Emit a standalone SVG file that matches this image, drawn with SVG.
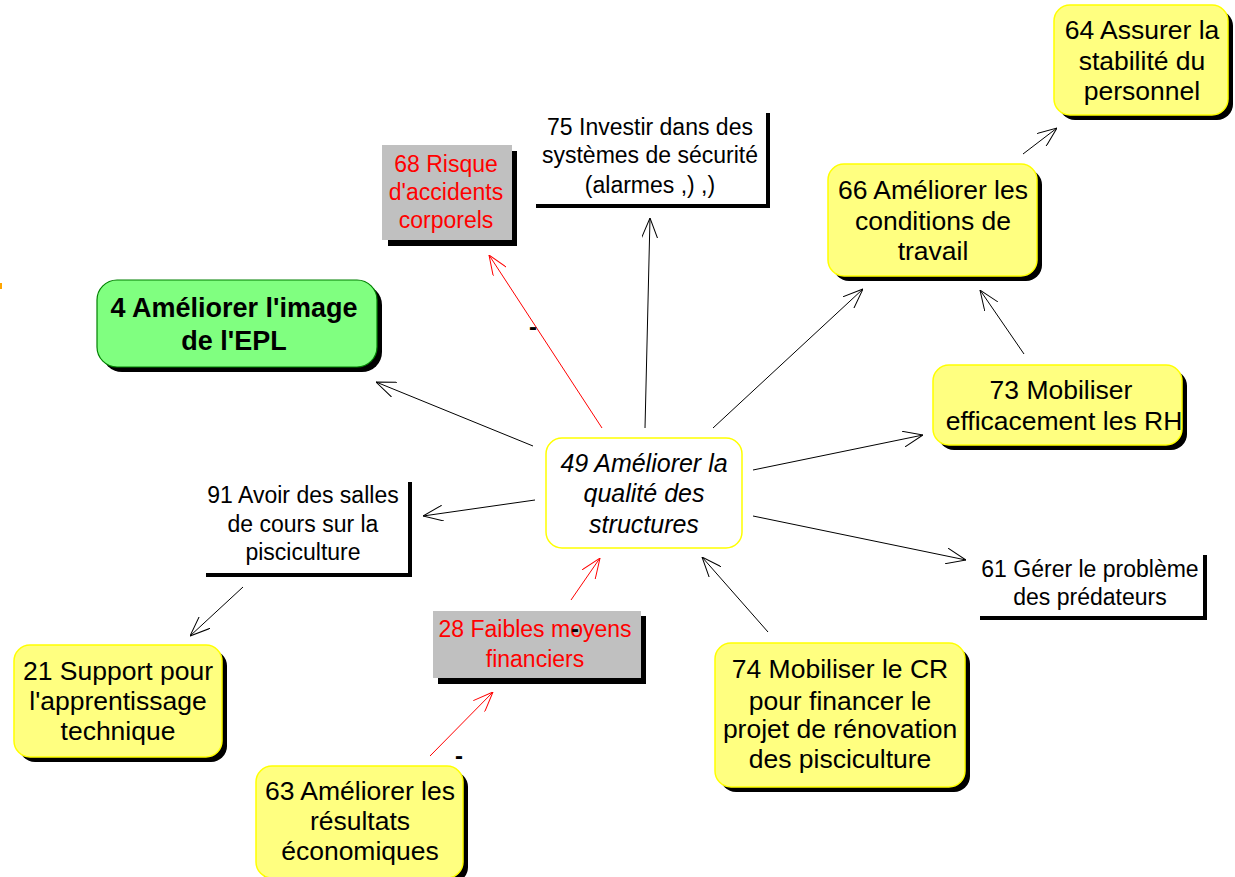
<svg xmlns="http://www.w3.org/2000/svg" width="1235" height="877" viewBox="0 0 1235 877">
  <defs>
    <style>
      text { font-family: "Liberation Sans", Arial, sans-serif; text-anchor: middle; }
      .shadow { fill: #000000; }
      .yellow { fill: #FFFF80; stroke: #FFFF00; stroke-width: 1.5; }
      .green { fill: #80FF80; stroke: #008000; stroke-width: 1.2; }
      .grey { fill: #C0C0C0; }
      .white { fill: #FFFFFF; }
      .center { fill: #FFFFFF; stroke: #FFFF00; stroke-width: 1.5; }
      .t-yellow { font-size: 26.5px; fill: #000000; }
      .t-plain { font-size: 23px; fill: #000000; }
      .t-red { font-size: 23px; fill: #FF0000; }
      .t-green { font-size: 27px; font-weight: bold; fill: #000000; }
      .t-center { font-size: 25px; font-style: italic; fill: #000000; }
      .sign { font-size: 24px; font-weight: bold; fill: #000000; }
      .link { fill: none; stroke: #000000; stroke-width: 1; }
      .link.neg { stroke: #FF0000; }
    </style>
    <marker id="arrow" viewBox="0 0 20 16" refX="20" refY="8" markerWidth="20" markerHeight="16" markerUnits="userSpaceOnUse" orient="auto">
      <path d="M0,0 L20,8 L0,16" fill="none" stroke="#000000" stroke-width="1"/>
    </marker>
    <marker id="arrow-red" viewBox="0 0 20 16" refX="20" refY="8" markerWidth="20" markerHeight="16" markerUnits="userSpaceOnUse" orient="auto">
      <path d="M0,0 L20,8 L0,16" fill="none" stroke="#FF0000" stroke-width="1"/>
    </marker>
    <clipPath id="clip73">
      <rect x="933" y="365" width="249" height="80" rx="16"/>
    </clipPath>
  </defs>

  <rect x="0" y="0" width="1235" height="877" fill="#FFFFFF"/>

  <!-- partly visible mark at the left edge -->
  <rect x="0" y="283" width="2" height="6" fill="#FFA500"/>

  <!-- connectors -->
  <g id="connectors">
    <line class="link neg" x1="602" y1="428" x2="489" y2="255" marker-end="url(#arrow-red)"/>
    <line class="link" x1="645" y1="428" x2="650" y2="218" marker-end="url(#arrow)"/>
    <line class="link" x1="713" y1="428" x2="863" y2="289" marker-end="url(#arrow)"/>
    <line class="link" x1="1024" y1="354" x2="980" y2="290" marker-end="url(#arrow)"/>
    <line class="link" x1="1023" y1="154" x2="1057" y2="128" marker-end="url(#arrow)"/>
    <line class="link" x1="753" y1="470" x2="923" y2="435" marker-end="url(#arrow)"/>
    <line class="link" x1="753" y1="516" x2="966" y2="560" marker-end="url(#arrow)"/>
    <line class="link" x1="533" y1="446" x2="376" y2="382" marker-end="url(#arrow)"/>
    <line class="link" x1="535" y1="500" x2="423" y2="516" marker-end="url(#arrow)"/>
    <line class="link" x1="243" y1="587" x2="190" y2="636" marker-end="url(#arrow)"/>
    <line class="link neg" x1="571" y1="600" x2="600" y2="558" marker-end="url(#arrow-red)"/>
    <line class="link neg" x1="430" y1="756" x2="493" y2="692" marker-end="url(#arrow-red)"/>
    <line class="link" x1="768" y1="632" x2="702" y2="557" marker-end="url(#arrow)"/>
    <!-- sign labels -->
    <text class="sign" x="533" y="335">-</text>
    <text class="sign" x="459" y="764">-</text>
  </g>

  <!-- 49 central node -->
  <g id="node49">
    <rect class="center" x="546" y="438" width="196" height="110" rx="16"/>
    <text class="t-center" x="644" y="472">49 Améliorer la</text>
    <text class="t-center" x="644" y="502">qualité des</text>
    <text class="t-center" x="644" y="533">structures</text>
  </g>

  <!-- 4 -->
  <g id="node4">
    <rect class="shadow" x="102" y="285" width="280" height="87" rx="20"/>
    <rect class="green" x="97" y="280" width="280" height="87" rx="20"/>
    <text class="t-green" x="234" y="317">4 Améliorer l'image</text>
    <text class="t-green" x="234" y="350">de l'EPL</text>
  </g>

  <!-- 68 -->
  <g id="node68">
    <rect class="shadow" x="388" y="151" width="129" height="95"/>
    <rect class="grey" x="382" y="145" width="130" height="95"/>
    <text class="t-red" x="446" y="172">68 Risque</text>
    <text class="t-red" x="446" y="200">d'accidents</text>
    <text class="t-red" x="446" y="228">corporels</text>
  </g>

  <!-- 75 -->
  <g id="node75">
    <rect class="shadow" x="536" y="113" width="234" height="95"/>
    <rect class="white" x="532" y="109" width="234" height="95"/>
    <text class="t-plain" x="650" y="135">75 Investir dans des</text>
    <text class="t-plain" x="650" y="163">systèmes de sécurité</text>
    <text class="t-plain" x="650" y="193">(alarmes ,) ,)</text>
  </g>

  <!-- 64 -->
  <g id="node64">
    <rect class="shadow" x="1059" y="10" width="174" height="110" rx="16"/>
    <rect class="yellow" x="1054" y="5" width="174" height="110" rx="16"/>
    <text class="t-yellow" x="1142" y="39">64 Assurer la</text>
    <text class="t-yellow" x="1142" y="70">stabilité du</text>
    <text class="t-yellow" x="1142" y="100">personnel</text>
  </g>

  <!-- 66 -->
  <g id="node66">
    <rect class="shadow" x="833" y="169" width="209" height="112" rx="16"/>
    <rect class="yellow" x="828" y="164" width="209" height="112" rx="16"/>
    <text class="t-yellow" x="933" y="199">66 Améliorer les</text>
    <text class="t-yellow" x="933" y="230">conditions de</text>
    <text class="t-yellow" x="933" y="260">travail</text>
  </g>

  <!-- 73: second line runs past the right edge and is cut by the box -->
  <g id="node73">
    <rect class="shadow" x="938" y="370" width="249" height="80" rx="16"/>
    <rect class="yellow" x="933" y="365" width="249" height="80" rx="16"/>
    <g clip-path="url(#clip73)">
      <text class="t-yellow" x="1061" y="399">73 Mobiliser</text>
      <text class="t-yellow" x="1064" y="430">efficacement les RH</text>
    </g>
  </g>

  <!-- 61 -->
  <g id="node61">
    <rect class="shadow" x="980" y="555" width="227" height="65"/>
    <rect class="white" x="976" y="551" width="227" height="65"/>
    <text class="t-plain" x="1090" y="577">61 Gérer le problème</text>
    <text class="t-plain" x="1090" y="605">des prédateurs</text>
  </g>

  <!-- 91 -->
  <g id="node91">
    <rect class="shadow" x="206" y="482" width="206" height="95"/>
    <rect class="white" x="202" y="478" width="206" height="95"/>
    <text class="t-plain" x="303" y="503">91 Avoir des salles</text>
    <text class="t-plain" x="303" y="532">de cours sur la</text>
    <text class="t-plain" x="303" y="560">pisciculture</text>
  </g>

  <!-- 21 -->
  <g id="node21">
    <rect class="shadow" x="19" y="650" width="208" height="112" rx="16"/>
    <rect class="yellow" x="14" y="645" width="208" height="112" rx="16"/>
    <text class="t-yellow" x="118" y="680">21 Support pour</text>
    <text class="t-yellow" x="118" y="710">l'apprentissage</text>
    <text class="t-yellow" x="118" y="740">technique</text>
  </g>

  <!-- 28 (its sign label sits on top of the first line) -->
  <g id="node28">
    <rect class="shadow" x="438" y="616" width="208" height="68"/>
    <rect class="grey" x="433" y="611" width="208" height="67"/>
    <text class="t-red" x="535" y="637">28 Faibles moyens</text>
    <text class="t-red" x="535" y="667">financiers</text>
    <text class="sign" x="575" y="637">-</text>
  </g>

  <!-- 63 -->
  <g id="node63">
    <rect class="shadow" x="261" y="771" width="207" height="112" rx="16"/>
    <rect class="yellow" x="256" y="766" width="207" height="112" rx="16"/>
    <text class="t-yellow" x="360" y="800">63 Améliorer les</text>
    <text class="t-yellow" x="360" y="830">résultats</text>
    <text class="t-yellow" x="360" y="860">économiques</text>
  </g>

  <!-- 74 -->
  <g id="node74">
    <rect class="shadow" x="720" y="648" width="250" height="144" rx="16"/>
    <rect class="yellow" x="715" y="643" width="250" height="144" rx="16"/>
    <text class="t-yellow" x="840" y="678">74 Mobiliser le CR</text>
    <text class="t-yellow" x="840" y="710">pour financer le</text>
    <text class="t-yellow" x="840" y="738">projet de rénovation</text>
    <text class="t-yellow" x="840" y="768">des pisciculture</text>
  </g>
</svg>
